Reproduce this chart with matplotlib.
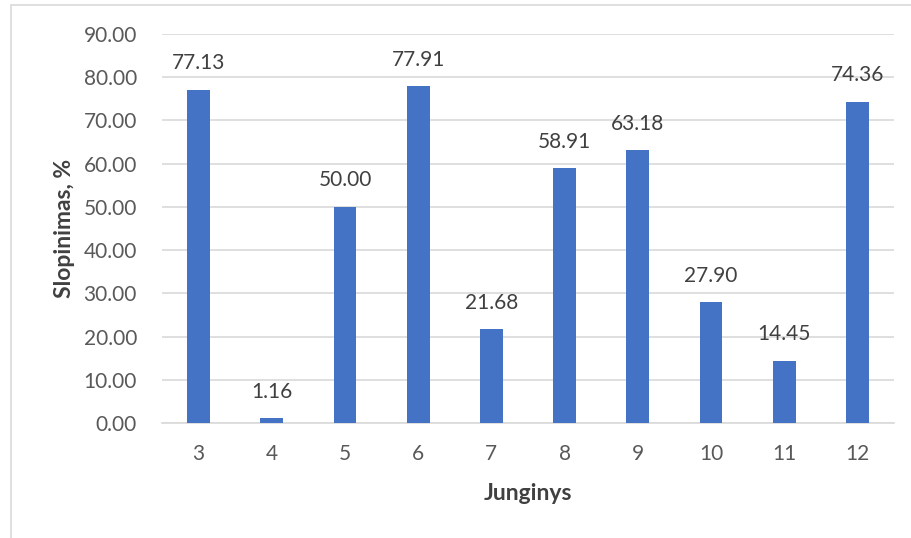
import matplotlib
matplotlib.use("Agg")
import matplotlib.pyplot as plt
from matplotlib.patches import Rectangle

categories = ["3", "4", "5", "6", "7", "8", "9", "10", "11", "12"]
values = [77.13, 1.16, 50.00, 77.91, 21.68, 58.91, 63.18, 27.90, 14.45, 74.36]
yticks = [0, 10, 20, 30, 40, 50, 60, 70, 80, 90]

plt.rcParams['font.family'] = ['Lato', 'DejaVu Sans']
W, H = 912, 538
fig = plt.figure(figsize=(W/100, H/100), dpi=100)

# chart frame (clipped at right/bottom like reference)
fig.patches.append(Rectangle((11/W, -0.1), 1.2, 1 - 5/H + 0.1, transform=fig.transFigure,
                             fill=False, edgecolor='#D9D9D9', linewidth=1.2))

ax = fig.add_axes([162/W, 1 - 423/H, (894-162)/W, (423-34)/H])
x = range(len(categories))
bars = ax.bar(x, values, width=0.31, color='#4472C4', zorder=3)
ax.set_xlim(-0.5, len(categories) - 0.5)
ax.set_ylim(0, 90)
ax.set_yticks(yticks)
ax.set_yticklabels([f"{v:.2f}" for v in yticks])
ax.set_xticks(list(x))
ax.set_xticklabels(categories)
ax.grid(axis='y', color='#D9D9D9', linewidth=1.2, zorder=0)
for s in ['top', 'right', 'left']:
    ax.spines[s].set_visible(False)
ax.spines['bottom'].set_color('#D9D9D9')
ax.spines['bottom'].set_linewidth(1.2)
ax.tick_params(axis='both', length=0, labelsize=15, colors='#595959')
ax.tick_params(axis='y', pad=18)
ax.tick_params(axis='x', pad=15)

for xi, v in zip(x, values):
    ax.annotate(f"{v:.2f}", (xi, v), xytext=(0, 19), textcoords='offset points',
                ha='center', va='center', fontsize=15, color='#404040')

ax.set_xlabel("Junginys", fontsize=16.5, fontweight='bold', color='#404040', labelpad=14)
ax.set_ylabel("Slopinimas, %", fontsize=16.5, fontweight='bold', color='#404040', labelpad=6)

fig.savefig("out.png", dpi=100)
